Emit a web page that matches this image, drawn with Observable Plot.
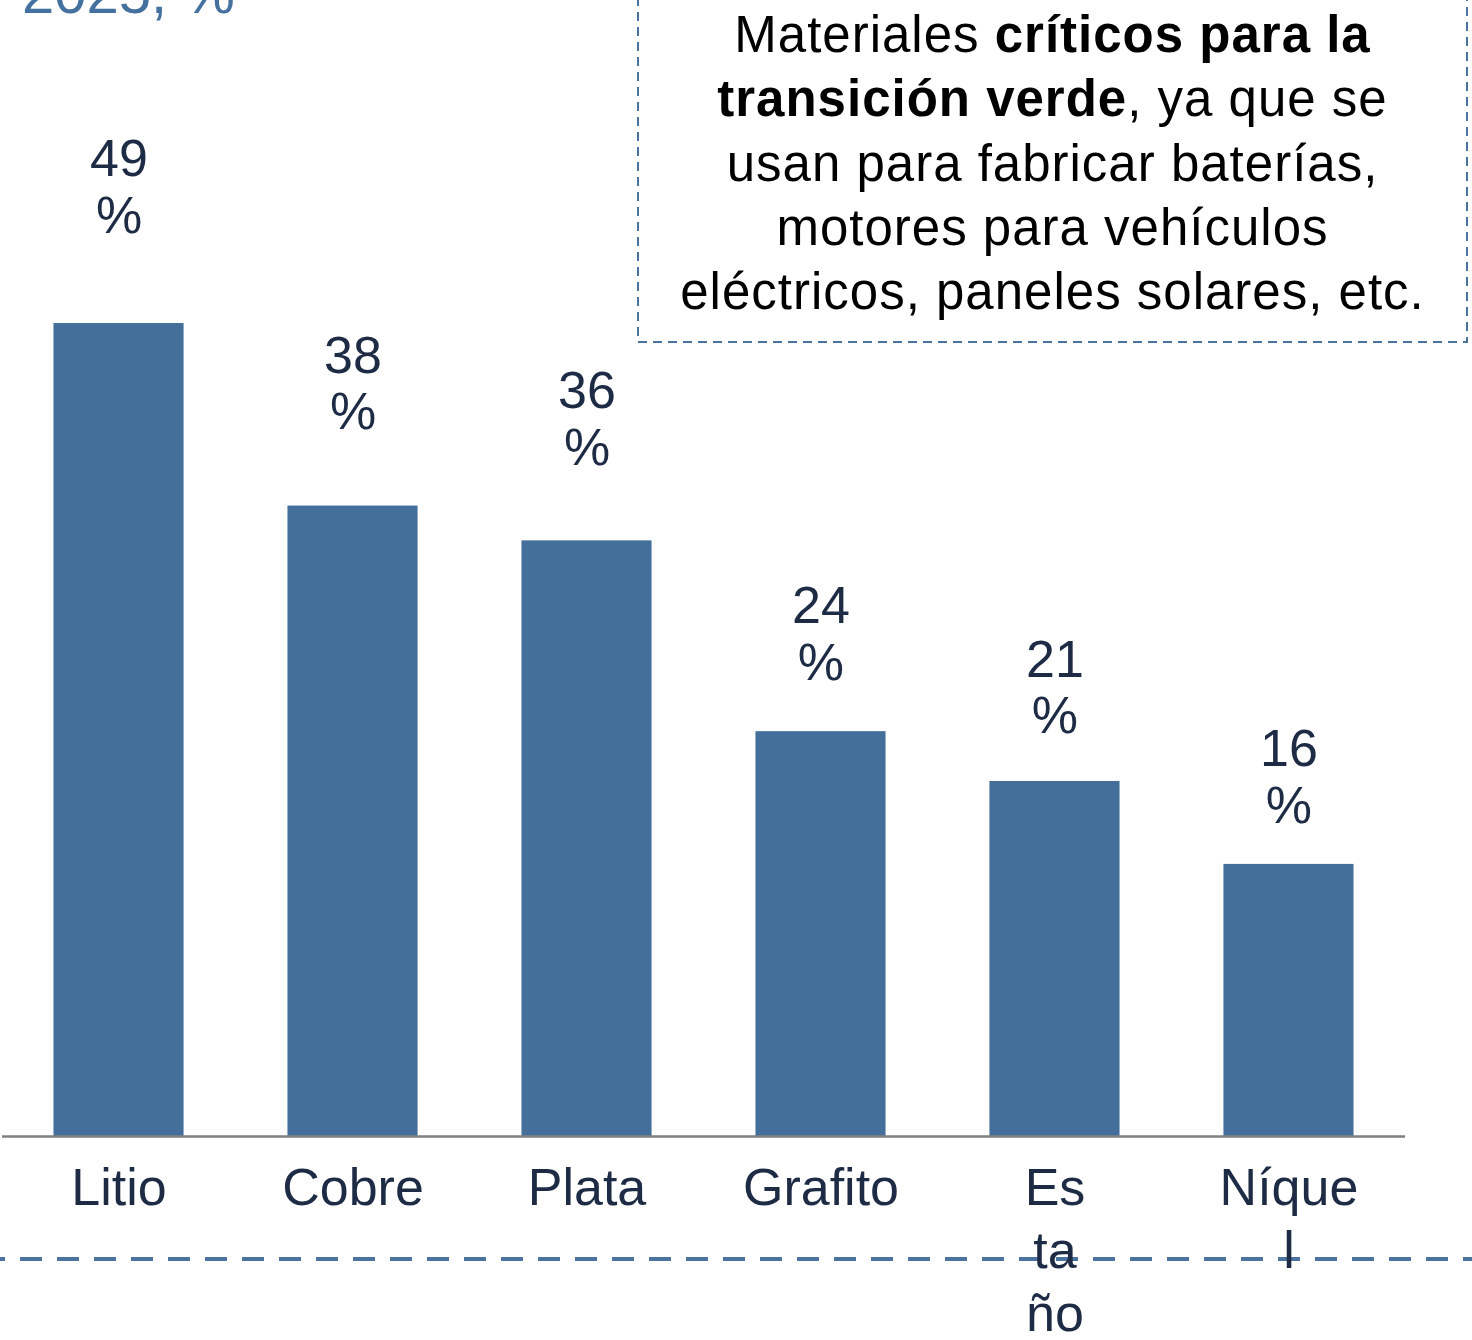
<!DOCTYPE html>
<html>
<head>
<meta charset="utf-8">
<script src="https://cdn.jsdelivr.net/npm/d3@7"></script>
<script src="https://cdn.jsdelivr.net/npm/@observablehq/plot@0.6"></script>
<style>
  html, body { margin: 0; padding: 0; background: #fff; }
  #wrap { position: relative; width: 1472px; height: 1340px; overflow: hidden; font-family: "Liberation Sans", Arial, Helvetica, sans-serif; }
  #title { position: absolute; left: 22px; top: -36px; font-size: 58px; line-height: 58px; color: #44719d; white-space: nowrap; }
  #note { position: absolute; left: 637px; top: -20px; width: 831px; height: 363px; box-sizing: border-box; }
  #note svg { position: absolute; left: 0; top: 0; }
  #noteText { position: absolute; left: 0; right: 0; top: 23px; text-align: center; font-size: 51px; line-height: 64.3px; letter-spacing: 1px; color: #000; }
  #deco { position: absolute; left: 0; top: 0; }
  #chart { position: absolute; left: 0; top: 0; }
</style>
</head>
<body>
<div id="wrap">
  <svg id="deco" width="1472" height="1340">
    <line x1="0" x2="1472" y1="1259" y2="1259" stroke="#4a73a0" stroke-width="4" stroke-dasharray="22 15" stroke-dashoffset="17"></line>
  </svg>
  <div id="chart"></div>
  <div id="title">2025, %</div>
  <div id="note">
    <svg width="831" height="363">
      <rect x="1" y="1" width="829" height="361" fill="none" stroke="#4a73a0" stroke-width="2" stroke-dasharray="9 6"></rect>
    </svg>
    <div id="noteText">Materiales <b>críticos para la<br>transición verde</b>, ya que se<br>usan para fabricar baterías,<br>motores para vehículos<br>eléctricos, paneles solares, etc.</div>
  </div>
</div>
<script>
const categories = ["Litio", "Cobre", "Plata", "Grafito", "Estaño", "Níquel"];
const shares = [49, 38, 35.9, 24.4, 21.4, 16.4];
const valueLabels = ["49\n%", "38\n%", "36\n%", "24\n%", "21\n%", "16\n%"];
const tickLabels = ["Litio", "Cobre", "Plata", "Grafito", "Es\nta\nño", "Níque\nl"];

const data = categories.map((c, i) => ({
  cat: c,
  value: shares[i],
  label: valueLabels[i],
  shown: parseFloat(valueLabels[i])
}));

const ink = "#1e2b45";

const chart = Plot.plot({
  width: 1472,
  height: 1340,
  marginLeft: 2,
  marginRight: 67,
  marginTop: 0,
  marginBottom: 204,
  style: { fontFamily: "'Liberation Sans', Arial, Helvetica, sans-serif", background: "transparent", overflow: "visible" },
  x: { domain: categories, paddingInner: 0.444, paddingOuter: 0.22, round: false, label: null },
  y: { domain: [0, 68.47], axis: null },
  marks: [
    Plot.barY(data, { x: "cat", y: "value", fill: "#436f9a" }),
    Plot.ruleY([0], { stroke: "#7f7f7f", strokeWidth: 2.5 }),
    Plot.text(data, {
      x: "cat",
      y: d => 7.5 + 1.078 * d.shown,
      text: "label",
      lineAnchor: "top",
      fontSize: 52,
      lineHeight: 1.09,
      fill: ink
    }),
    Plot.axisX({
      tickSize: 0,
      tickPadding: 24,
      fontSize: 52,
      lineHeight: 1.21,
      fill: ink,
      label: null,
      tickFormat: d => tickLabels[categories.indexOf(d)]
    })
  ]
});
document.getElementById("chart").appendChild(chart);
</script>
</body>
</html>
